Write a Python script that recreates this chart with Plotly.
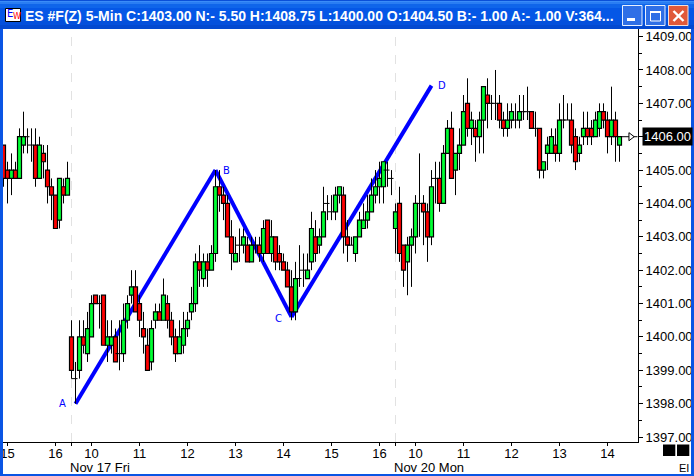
import plotly.graph_objects as go

opens = [1405.75,1405,1404.75,1405,1404.75,1405.75,1406,1405.75,1405.75,1404.75,
1405.5,1405,1404.5,1404.25,1403.5,1404.5,1404.25,1400,1398.75,1399,
1400,1399.5,1400,1401.25,1401,1401.25,1399.75,1399.75,1400,1399.5,
1399.5,1400.5,1401.25,1401.5,1401,1400.25,1399.75,1399.25,1400.5,1400.75,
1400.5,1401,1400.5,1400,1399.5,1399.75,1400.25,1400.75,1401,1402.25,
1401.75,1402.25,1402,1402.5,1404.5,1404.25,1404,1403,1402.25,1402.75,
1402.75,1402.75,1402.25,1402.75,1402.75,1402.5,1403.5,1402.5,1403,1402.5,
1402.25,1402,1401.5,1400.75,1401.75,1402,1401.75,1402.25,1403,1402.75,
1403,1404,1403.75,1403.75,1404.25,1404.25,1403,1402.75,1402.5,1403,
1403.25,1403.5,1403.75,1404.25,1404.5,1404.5,1405,1404.75,1403.25,1404,
1402.75,1402.25,1402.75,1403,1404,1404,1403.75,1403,1404.75,1404.75,
1404,1405.5,1406.25,1405,1405.5,1405.75,1407,1406.25,1406.25,1406,
1406.5,1407.25,1407,1407,1407,1406.5,1406.25,1406.5,1406.5,1406.5,
1406.75,1406.75,1406.75,1406.25,1406.25,1405,1405.5,1405.5,1405.75,1405.5,
1406.5,1406.5,1406.5,1406,1405.5,1406,1406.25,1406.25,1406,1406.25,
1406.75,1406.5,1406,1406.5,1405.75]
closes = [1404.75,1404.75,1405,1404.75,1406,1406,1406,1405.75,1404.75,1405.75,
1405.25,1404.5,1404.25,1403.25,1404.75,1404.25,1404.75,1399,1398.75,1400,
1399.75,1400.25,1401,1401,1401,1399.75,1400,1400,1399.25,1399.5,
1400.5,1401,1401.5,1400.75,1400.5,1400,1399,1400.25,1400.75,1400.5,
1401.25,1400.5,1400,1399.5,1400,1400.25,1400.5,1401,1402.25,1402,
1402.25,1402,1402.5,1404.5,1404.25,1404,1403,1402.5,1402.5,1402.75,
1403,1402.25,1402.75,1402.75,1402.5,1403.25,1402.5,1403,1402.25,1402.25,
1402,1401.5,1400.75,1401.75,1401.75,1402,1402,1403.25,1402.5,1403,
1403.75,1404,1403.75,1404.25,1404.5,1403,1402.75,1402.75,1403,1403.5,
1403.5,1403.75,1404.25,1404.5,1404.75,1405.25,1405,1404.75,1403.75,1402.5,
1402,1402.75,1403,1404,1404,1403.75,1403,1404.5,1404.75,1404,
1405.5,1406.25,1404.75,1405.5,1405.75,1406.75,1406.25,1406.5,1406,1406.5,
1407.5,1407,1407,1407,1406.5,1406.25,1406.5,1406.75,1406.5,1406.75,
1406.75,1406.75,1406.25,1406.25,1405,1405.25,1405.75,1406,1405.5,1406.5,
1406.5,1406.5,1405.75,1405.25,1405.75,1406.25,1406,1406,1406.5,1406.75,
1406.5,1406,1406.5,1406,1406]
highs = [1405.75,1405.25,1405.5,1405.25,1406.25,1406.75,1406.25,1406.25,1406.25,1406,
1405.75,1405.75,1404.75,1404.25,1404.75,1404.75,1405.25,1400.5,1399.25,1400.5,
1400.5,1400.75,1401.25,1401.25,1401.25,1401.25,1400.5,1400.5,1400.25,1400.5,
1401,1401.25,1402,1402,1401.25,1400.75,1400.25,1400.5,1401,1401,
1401.75,1401.25,1400.75,1400.25,1400.5,1400.75,1400.75,1401.5,1402.5,1402.75,
1402.5,1402.5,1402.75,1405,1405,1404.5,1404.25,1403.5,1403,1403.25,
1403.25,1403,1403,1403,1403,1403.5,1403.5,1403.5,1403,1402.75,
1402.5,1402.25,1402,1402.25,1402.75,1402.5,1402.5,1403.75,1403.5,1403.25,
1404.5,1404.25,1404.25,1404.5,1404.5,1404.5,1403.5,1403,1403,1403.75,
1404,1404.25,1404.75,1405,1405.25,1405.25,1405.25,1405,1404,1404.5,
1402.75,1403,1403.25,1404.25,1405.5,1404.25,1404,1405,1405.25,1405.25,
1405.75,1406.5,1406.75,1405.5,1406.25,1407.25,1407.75,1406.75,1406.5,1406.75,
1407.5,1407.75,1407.25,1408,1407.25,1406.75,1407,1407,1407,1407.25,
1407.25,1407.5,1406.75,1406.75,1406.25,1405.25,1406,1406.25,1406.25,1407,
1407.25,1407,1407,1406.25,1406,1406.75,1406.75,1406.5,1406.75,1407,
1407,1406.75,1407.5,1406.75,1406]
lows = [1404.5,1404,1404.25,1404.75,1404.75,1405.5,1405.5,1405.25,1404.5,1404.75,
1404.75,1404,1403.5,1403.25,1403.25,1404,1404.25,1398.75,1398,1398.75,
1399.5,1399.25,1400,1401,1400.25,1399.75,1399.25,1399.5,1399.25,1399,
1399.25,1400.25,1401,1400.75,1400,1399.5,1399,1399,1400.25,1400.5,
1400.5,1400.25,1399.75,1399.25,1399.5,1399.5,1400,1400.5,1400.75,1401.5,
1401.5,1401.5,1402,1402.25,1403.75,1403.5,1403,1402,1402.25,1402.25,
1402.5,1402.25,1402.25,1402.5,1402.25,1402.25,1402.5,1402.25,1402,1402,
1402,1401.5,1400.5,1400.5,1401.5,1401.5,1401.75,1402,1402.25,1402.5,
1403,1403.5,1403.5,1403.5,1404,1402.5,1402.25,1402.75,1402.25,1403,
1403.25,1403.25,1403.75,1404,1404,1404,1404.5,1404.25,1402.5,1402.25,
1401.5,1401.25,1401.5,1402.5,1403,1402.75,1402.25,1402.75,1404,1403.75,
1404,1405.5,1404.75,1404.25,1405,1405.75,1406,1405.75,1405.25,1405.5,
1405.5,1406.25,1406.5,1406.5,1406.25,1406,1406,1406.25,1406.25,1406.25,
1406.5,1406.5,1406.25,1406,1404.75,1404.75,1405,1405.5,1405.25,1405.25,
1406.25,1406.5,1405.5,1405,1405.25,1405.75,1405.75,1405.75,1406,1406,
1406.25,1405.5,1405.75,1405.25,1405.25]

hour_ticks = [1, 13, 17, 22, 34, 46, 58, 70, 82, 94, 98, 103, 115, 127, 139, 151]
hour_labels = ["15", "16", "", "10", "11", "12", "13", "14", "15", "16", "", "10", "11", "12", "13", "14"]
price_ticks = list(range(1397, 1410))
last_price = 1406.00
price_labels = ["" if p == last_price else f"{p}.00" for p in price_ticks]
session_starts = [17, 98]
session_labels = ["Nov 17 Fri", "Nov 20 Mon"]
wave_x = [18, 53, 72, 107]
wave_y = [1398, 1405, 1400.6, 1407.53]
wave_names = ["A", "B", "C", "D"]
wave_dx = [-13, 11, -13, 10]
wave_dy = [0, 0, 2, 0]
title = "ES #F(Z) 5-Min C:1403.00 N:- 5.50 H:1408.75 L:1400.00 O:1404.50 B:- 1.00 A:- 1.00 V:364..."

L, R, T, B = 3, 638, 29, 442
W, H = 694, 476
px = lambda x: (x - L) / (R - L)
py = lambda y: (B - y) / (B - T)
FONT = "Liberation Sans"
shapes, annos = [], []

def rect(x0, y0, x1, y1, fill, line=None, lw=0):
    shapes.append(dict(type="rect", xref="paper", yref="paper", x0=px(x0), x1=px(x1), y0=py(y1), y1=py(y0),
                       fillcolor=fill, line=dict(color=line or fill, width=lw), layer="above"))

def seg(x0, y0, x1, y1, color, lw):
    shapes.append(dict(type="line", xref="paper", yref="paper", x0=px(x0), x1=px(x1), y0=py(y0), y1=py(y1),
                       line=dict(color=color, width=lw), layer="above"))

def text(x, y, s, color="black", size=13, xa="left", family=FONT, bold=False):
    annos.append(dict(xref="paper", yref="paper", x=px(x), y=py(y), text=f"<b>{s}</b>" if bold else s, showarrow=False,
                      xanchor=xa, yanchor="middle", font=dict(family=family, size=size, color=color),
                      borderpad=0, borderwidth=0))

# session separators
for s in session_starts:
    shapes.append(dict(type="line", xref="x", yref="paper", x0=s, x1=s, y0=0, y1=1,
                       line=dict(color="#e2e2e2", width=1, dash="dash"), layer="below"))
# wave lines, under the candles
for i in range(3):
    shapes.append(dict(type="line", xref="x", yref="y", x0=wave_x[i], x1=wave_x[i + 1], y0=wave_y[i], y1=wave_y[i + 1],
                       line=dict(color="#0000ff", width=4), layer="below"))
for n, xv, yv, dx, dy in zip(wave_names, wave_x, wave_y, wave_dx, wave_dy):
    annos.append(dict(xref="x", yref="y", x=xv, y=yv, text=n, showarrow=False, xshift=dx, yshift=-dy,
                      font=dict(family="DejaVu Sans", size=10, color="#0000ff")))

# window frame
strips = [(0, 1, "#0a4fd8"), (1, 2, "#3a8cf8"), (2, 4, "#2a7df2"), (4, 8, "#0f65ea"), (8, 20, "#0557e6"),
          (20, 25, "#0450dc"), (25, 29, "#0349d0")]
for y0, y1, c in strips:
    rect(0, y0, W, y1, c)
rect(0, 29, 3, H, "#0a55e4")
rect(691, 29, W, H, "#0a55e4")
rect(0, 474, W, H, "#0a55e4")

# window icon
rect(5.5, 8.5, 20.5, 21.5, "white", "black", 1)
text(7, 13, "E", "#0000ff", 10, family="DejaVu Sans")
text(13, 17, "W", "#ff0000", 8, family="DejaVu Sans")
text(25, 16, title, "white", 14, bold=True)

# window buttons
rect(622.5, 5.5, 642, 25.5, "#2f6fe6", "#e8f0ff", 1)
rect(627, 18, 635, 21, "white")
rect(645.5, 5.5, 665, 25.5, "#2f6fe6", "#e8f0ff", 1)
rect(650.5, 11.5, 660.5, 21, "rgba(0,0,0,0)", "white", 1)
rect(650, 11, 661, 13, "white")
rect(668.5, 5.5, 688, 25.5, "#e0593a", "#f5e0d8", 1)
seg(673.5, 11, 683.5, 21, "white", 2.4)
seg(683.5, 11, 673.5, 21, "white", 2.4)

# corner blocks and text
rect(663, 444.5, 675.3, 456, "black")
rect(677, 444.5, 689.3, 456, "black")
text(683.5, 467.5, "EI", "black", 11, "center")

# session dates
for s, lab in zip(session_starts, session_labels):
    annos.append(dict(xref="x", yref="paper", x=s, y=py(467), text=lab, showarrow=False, xanchor="left", yanchor="middle",
                      xshift=-4, font=dict(family=FONT, size=13, color="black")))

# last price tag
annos.append(dict(xref="paper", yref="y", x=px(642), y=last_price, text=f"{last_price:.2f}", showarrow=False, xanchor="left",
                  yanchor="middle", font=dict(family=FONT, size=13, color="white"), bgcolor="black", borderpad=1))

idx = list(range(len(opens)))
body_x = [i for i in idx if opens[i] != closes[i]]
body_base = [min(opens[i], closes[i]) for i in body_x]
body_size = [abs(opens[i] - closes[i]) for i in body_x]
body_color = ["#00ff33" if closes[i] > opens[i] else "#ff0000" for i in body_x]

wick_x, wick_y = [], []
for i in idx:
    top, bot = max(opens[i], closes[i]), min(opens[i], closes[i])
    if highs[i] > top:
        wick_x += [i, i, None]
        wick_y += [highs[i], top, None]
    if lows[i] < bot:
        wick_x += [i, i, None]
        wick_y += [bot, lows[i], None]
    if top == bot:
        wick_x += [i - 1, i + 0.5, None]
        wick_y += [top, top, None]

fig = go.Figure()
fig.add_trace(go.Bar(x=body_x, y=body_size, base=body_base, width=1.0,
                     marker=dict(color=body_color, line=dict(color="black", width=1.2)),
                     showlegend=False, hoverinfo="skip"))
fig.add_trace(go.Scatter(x=wick_x, y=wick_y, mode="lines", line=dict(color="black", width=1),
                         showlegend=False, hoverinfo="skip", connectgaps=False))
fig.add_trace(go.Scatter(x=[len(opens) - 0.5, len(opens) + 3.5], y=[last_price, last_price], mode="lines",
                         line=dict(color="black", width=1), showlegend=False, hoverinfo="skip"))
fig.add_trace(go.Scatter(x=[len(opens) + 1.8], y=[last_price], mode="markers",
                         marker=dict(symbol="triangle-right", size=7, color="white", line=dict(color="black", width=1)),
                         showlegend=False, hoverinfo="skip"))

fig.update_layout(
    width=W, height=H, autosize=False, margin=dict(l=L, r=W - R, t=T, b=H - B, pad=0, autoexpand=False),
    paper_bgcolor="white", plot_bgcolor="white", showlegend=False,
    font=dict(family=FONT, size=13, color="black"), shapes=shapes, annotations=annos,
    xaxis=dict(range=[(L - 3.5) / 4, (R - 3.5) / 4], showgrid=False, zeroline=False,
               tickmode="array", tickvals=hour_ticks, ticktext=hour_labels, ticks="outside", ticklen=3, tickcolor="black",
               tickwidth=1, showline=True, linecolor="black", linewidth=1, tickangle=0, ticklabelstandoff=-4,
               automargin=False),
    yaxis=dict(side="right", range=[1409 - (B - 36.6) / 33.37, 1409 + (36.6 - T) / 33.37], showgrid=False, zeroline=False,
               tickmode="array", tickvals=price_ticks, ticktext=price_labels, ticks="outside", ticklen=4, tickcolor="black",
               tickwidth=1, showline=True, linecolor="black", linewidth=1, automargin=False,
               minor=dict(dtick=0.5, tick0=1397, ticks="outside", ticklen=3, tickcolor="black", tickwidth=1)),
)
fig.write_html("out.html", config=dict(displayModeBar=False),
               post_script="document.body.style.margin='0';document.body.style.overflow='hidden';")
